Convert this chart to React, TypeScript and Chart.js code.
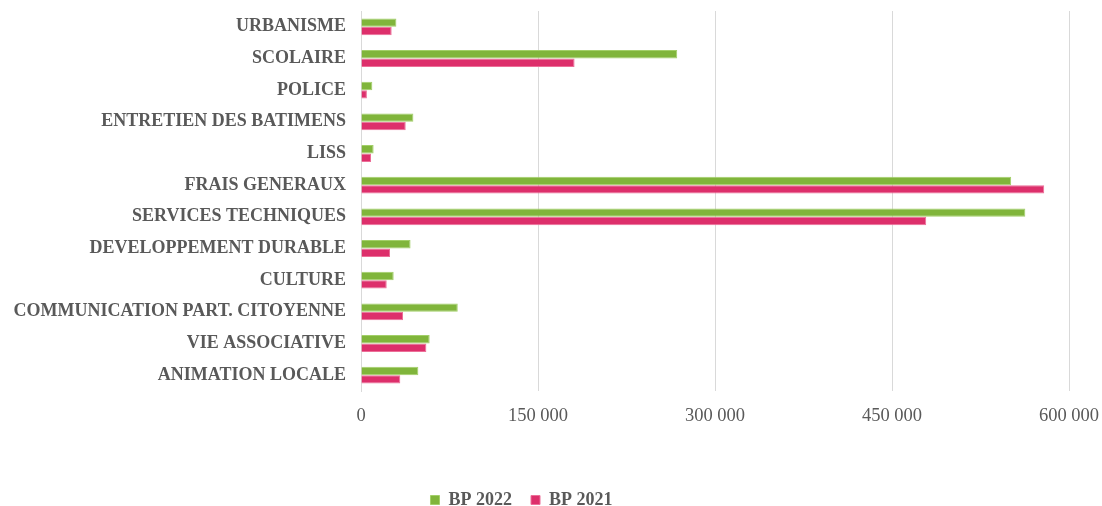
import React, { useEffect, useRef } from "react";
import { Chart, registerables } from "chart.js";

Chart.register(...registerables);

const categories = [
  "URBANISME",
  "SCOLAIRE",
  "POLICE",
  "ENTRETIEN DES BATIMENS",
  "LISS",
  "FRAIS GENERAUX",
  "SERVICES TECHNIQUES",
  "DEVELOPPEMENT DURABLE",
  "CULTURE",
  "COMMUNICATION PART. CITOYENNE",
  "VIE ASSOCIATIVE",
  "ANIMATION LOCALE",
];

const bp2022 = [30000, 268000, 9600, 44400, 10700, 551000, 563000, 42000, 27700, 82000, 58200, 48600];
const bp2021 = [26000, 181000, 5000, 37900, 8500, 579000, 479000, 24600, 21800, 35600, 55400, 33300];

const seriesNames = ["BP 2022", "BP 2021"];
const xTicks = [0, 150000, 300000, 450000, 600000];

const fmt = (v: number) => String(v).replace(/\B(?=(\d{3})+(?!\d))/g, " ");

const legendShift = {
  id: "legendShift",
  afterLayout(chart: any) {
    const lg = chart.legend;
    if (!lg) return;
    lg.left -= 13;
    lg.right -= 13;
    lg.top += 13;
    lg.bottom += 13;
  },
};

export default function App() {
  const ref = useRef<HTMLCanvasElement | null>(null);

  useEffect(() => {
    if (!ref.current) return;
    const chart = new Chart(ref.current, {
      type: "bar",
      data: {
        labels: categories,
        datasets: [
          {
            label: seriesNames[0],
            data: bp2022,
            backgroundColor: "#80b53b",
            borderColor: "#a2cf68",
            borderWidth: 1,
            categoryPercentage: 0.53,
            barPercentage: 1,
          },
          {
            label: seriesNames[1],
            data: bp2021,
            backgroundColor: "#dd2f6b",
            borderColor: "#ec6f98",
            borderWidth: 1,
            categoryPercentage: 0.53,
            barPercentage: 1,
          },
        ],
      },
      options: {
        indexAxis: "y",
        animation: false,
        responsive: true,
        maintainAspectRatio: false,
        layout: { padding: { left: 0, right: 33, top: 11, bottom: 0 } },
        plugins: {
          tooltip: { enabled: false },
          legend: {
            position: "bottom",
            labels: {
              boxWidth: 9,
              boxHeight: 9,
              padding: 19,
              color: "#595959",
              font: { family: "'Liberation Serif', serif", size: 18, weight: "bold" },
            },
          },
        },
        scales: {
          x: {
            type: "linear",
            min: 0,
            max: 600000,
            afterBuildTicks: (scale: any) => {
              scale.ticks = xTicks.map((v) => ({ value: v }));
            },
            afterFit: (scale: any) => {
              scale.height = 68;
              scale.paddingLeft = 0;
              scale.paddingRight = 0;
            },
            grid: { color: "#d9d9d9", lineWidth: 1, drawTicks: false },
            border: { display: false },
            ticks: {
              padding: 14,
              color: "#595959",
              font: { family: "'Liberation Serif', serif", size: 18.5 },
              callback: (v: any) => fmt(Number(v)),
            },
          },
          y: {
            afterFit: (scale: any) => {
              scale.width = 361;
              scale.paddingTop = 0;
              scale.paddingBottom = 0;
            },
            grid: { display: false, drawTicks: false },
            border: { display: true, color: "#d9d9d9", width: 1 },
            ticks: {
              padding: 15,
              color: "#595959",
              font: { family: "'Liberation Serif', serif", size: 18, weight: "bold" },
            },
          },
        },
      },
      plugins: [legendShift],
    });
    return () => chart.destroy();
  }, []);

  return (
    <div style={{ position: "absolute", left: 0, top: 0, width: 1102, height: 506, overflow: "hidden", background: "#fff" }}>
      <canvas ref={ref} />
    </div>
  );
}
